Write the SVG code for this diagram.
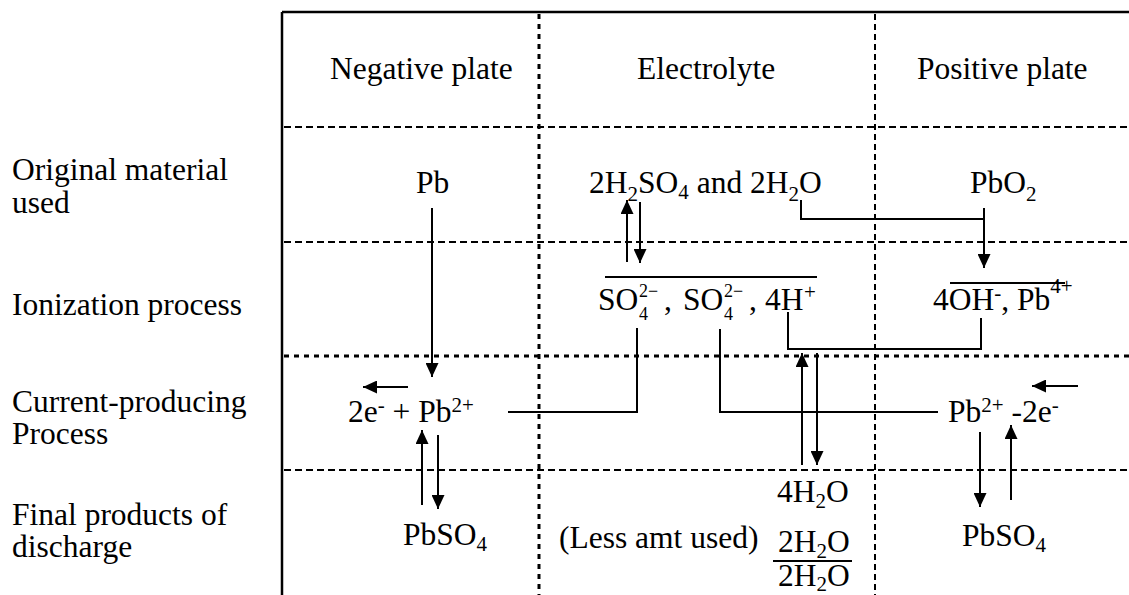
<svg xmlns="http://www.w3.org/2000/svg" width="1129" height="595" viewBox="0 0 1129 595">
<defs>
<marker id="ah" markerUnits="userSpaceOnUse" markerWidth="14" markerHeight="13" refX="14" refY="6.5" orient="auto">
<path d="M0,0 L14,6.5 L0,13 z" fill="#000"/>
</marker>
<style>
text{font-family:"Liberation Serif","Times New Roman",serif;font-size:31.5px;fill:#000}
.s{font-size:21px}
.t{font-size:18px}
.frame{stroke:#000;stroke-width:2.5;fill:none}
.dash{stroke:#000;stroke-width:2;stroke-dasharray:7 4;fill:none}
.dot{stroke:#000;stroke-width:3;stroke-dasharray:5 5;fill:none}
.vdash{stroke:#000;stroke-width:2;stroke-dasharray:6 4;fill:none}
.c{stroke:#000;stroke-width:2;fill:none}
.a{stroke:#000;stroke-width:2;fill:none;marker-end:url(#ah)}
</style>
</defs>
<rect width="1129" height="595" fill="#fff"/>
<g id="grid">
<line class="frame" x1="282" y1="12" x2="1129" y2="12"/>
<line class="frame" x1="282" y1="12" x2="282" y2="595"/>
<line class="dot" x1="539" y1="14" x2="539" y2="595"/>
<line class="vdash" x1="875" y1="14" x2="875" y2="595"/>
<line class="dash" x1="284" y1="127" x2="1129" y2="127"/>
<line class="dash" x1="284" y1="242" x2="1129" y2="242"/>
<line class="dot" x1="284" y1="356" x2="1129" y2="356"/>
<line class="dash" x1="284" y1="470" x2="1129" y2="470"/>
</g>
<g id="headers">
<text x="330" y="79">Negative plate</text>
<text x="637" y="79">Electrolyte</text>
<text x="917" y="79">Positive plate</text>
</g>
<g id="row-labels">
<text x="12" y="180">Original material</text>
<text x="12" y="213">used</text>
<text x="12" y="315">Ionization process</text>
<text x="12" y="412">Current-producing</text>
<text x="12" y="444">Process</text>
<text x="12" y="525">Final products of</text>
<text x="12" y="557">discharge</text>
</g>
<g id="node-pb"><text x="416" y="193">Pb</text></g>
<g id="node-acid"><text x="589" y="193">2H<tspan class="s" dy="8">2</tspan><tspan dy="-8">SO</tspan><tspan class="s" dy="6">4</tspan><tspan dy="-6"> and 2H</tspan><tspan class="s" dy="8">2</tspan><tspan dy="-8">O</tspan></text></g>
<g id="node-pbo2"><text x="970" y="193">PbO<tspan class="s" dy="8">2</tspan></text></g>
<g id="node-ions">
<text x="598" y="310">SO</text>
<text class="t" x="639" y="297">2−</text>
<text class="t" x="639" y="320">4</text>
<text x="664" y="310">,</text>
<text x="683" y="310">SO</text>
<text class="t" x="724" y="297">2−</text>
<text class="t" x="724" y="320">4</text>
<text x="749" y="310">,</text>
<text x="765" y="310">4H</text>
<text class="s" x="804" y="299">+</text>
<line class="c" x1="605" y1="277" x2="817" y2="277"/>
</g>
<g id="node-oh">
<text x="933" y="310">4OH<tspan class="s" dy="-10">-</tspan><tspan dy="10">, Pb</tspan><tspan class="s" dy="-17">4+</tspan></text>
<line class="c" x1="950" y1="283" x2="1065" y2="283"/>
</g>
<g id="node-neg-current"><text x="348" y="422">2e<tspan class="s" dy="-10">-</tspan><tspan dy="10"> + Pb</tspan><tspan class="s" dy="-10">2+</tspan></text></g>
<g id="node-pos-current"><text x="948" y="422">Pb<tspan class="s" dy="-10">2+</tspan><tspan dy="10"> -2e</tspan><tspan class="s" dy="-10">-</tspan></text></g>
<g id="node-pbso4-neg"><text x="403" y="545">PbSO<tspan class="s" dy="6">4</tspan></text></g>
<g id="node-less"><text x="559" y="548">(Less amt used)</text></g>
<g id="node-4h2o"><text x="777" y="502">4H<tspan class="s" dy="6">2</tspan><tspan dy="-6">O</tspan></text></g>
<g id="node-frac">
<text x="778" y="552">2H<tspan class="s" dy="6">2</tspan><tspan dy="-6">O</tspan></text>
<line class="c" x1="773" y1="561" x2="852" y2="561"/>
<text x="778" y="586">2H<tspan class="s" dy="5">2</tspan><tspan dy="-5">O</tspan></text>
</g>
<g id="node-pbso4-pos"><text x="962" y="546">PbSO<tspan class="s" dy="6">4</tspan></text></g>
<g id="connectors">
<line class="a" x1="432" y1="208" x2="432" y2="377"/>
<line class="a" x1="627" y1="262" x2="627" y2="200"/>
<line class="a" x1="640" y1="202" x2="640" y2="263"/>
<polyline class="c" points="801,200 801,219 984,219"/>
<line class="a" x1="984" y1="208" x2="984" y2="268"/>
<polyline class="c" points="637,328 637,412 508,412"/>
<polyline class="c" points="720,329 720,412 938,412"/>
<polyline class="c" points="788,312 788,349 981,349 981,318"/>
<line class="a" x1="802" y1="465" x2="802" y2="353"/>
<line class="a" x1="817" y1="353" x2="817" y2="465"/>
<line class="a" x1="408" y1="387" x2="363" y2="387"/>
<line class="a" x1="1078" y1="386" x2="1032" y2="386"/>
<line class="a" x1="422" y1="505" x2="422" y2="430"/>
<line class="a" x1="438" y1="435" x2="438" y2="509"/>
<line class="a" x1="980" y1="432" x2="980" y2="507"/>
<line class="a" x1="1011" y1="500" x2="1011" y2="425"/>
</g>
</svg>
